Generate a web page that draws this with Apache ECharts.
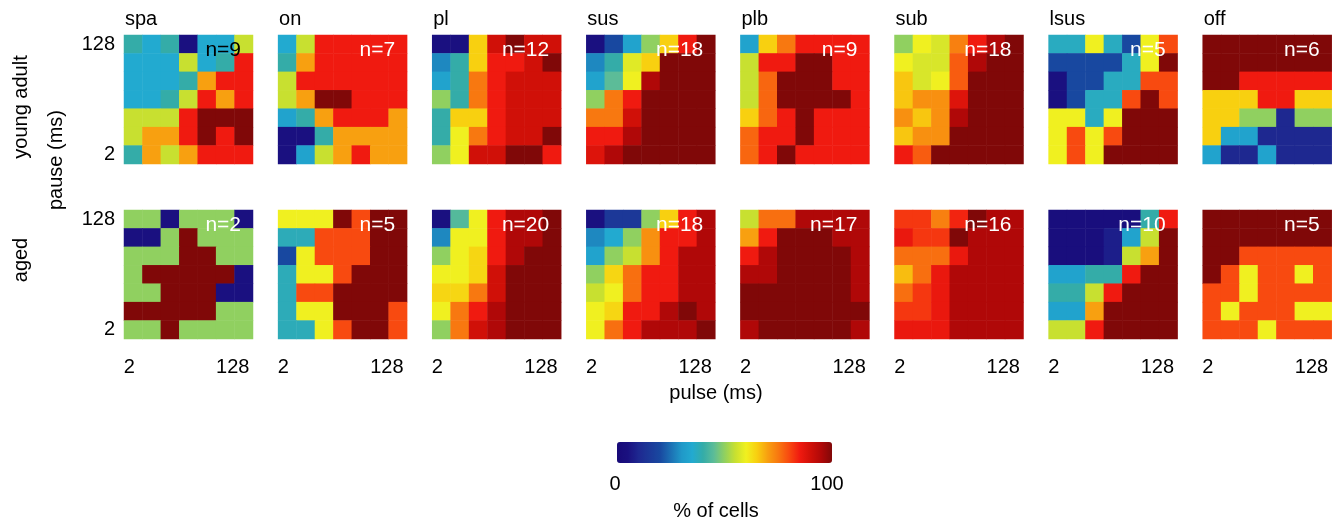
<!DOCTYPE html>
<html>
<head>
<meta charset="utf-8">
<script src="https://cdn.jsdelivr.net/npm/echarts@6/dist/echarts.min.js"></script>
<style>
  html, body { margin: 0; padding: 0; background: #fff; }
  #main { width: 1341px; height: 523px; }
</style>
</head>
<body>
<div id="main"></div>
<script>
// tick labels (pulse on x, pause on y)
var pulseTicks = ['2', '4', '8', '16', '32', '64', '128'];
var pauseTicks = ['2', '4', '8', '16', '32', '64', '128'];
var panelNames = ['spa', 'on', 'pl', 'sus', 'plb', 'sub', 'lsus', 'off'];
var nYoung = [9, 7, 12, 18, 9, 18, 5, 6];
var nAged = [2, 5, 20, 18, 17, 16, 10, 5];

// % of cells, rows from pause 128 (top) to 2 (bottom), columns pulse 2 -> 128
var spaYoung = [
  [40, 35, 40, 5, 35, 35, 55],
  [35, 35, 35, 55, 35, 40, 85],
  [35, 35, 35, 40, 70, 85, 85],
  [35, 35, 40, 55, 85, 70, 85],
  [55, 55, 55, 85, 100, 100, 100],
  [55, 70, 70, 85, 100, 85, 100],
  [40, 70, 55, 70, 85, 85, 85]
];
var onYoung = [
  [35, 55, 85, 85, 85, 85, 85],
  [40, 70, 85, 85, 85, 85, 85],
  [55, 85, 85, 85, 85, 85, 85],
  [55, 70, 100, 100, 85, 85, 85],
  [33, 40, 70, 85, 85, 85, 70],
  [5, 5, 40, 70, 70, 70, 70],
  [5, 33, 55, 70, 85, 70, 70]
];
var plYoung = [
  [5, 5, 65, 90, 100, 90, 90],
  [28, 40, 65, 85, 85, 90, 100],
  [33, 40, 75, 85, 90, 90, 90],
  [50, 40, 75, 85, 90, 90, 90],
  [40, 65, 65, 85, 90, 90, 90],
  [40, 60, 75, 85, 90, 90, 100],
  [50, 60, 90, 90, 100, 100, 85]
];
var susYoung = [
  [5, 20, 33, 50, 65, 85, 100],
  [28, 40, 58, 65, 100, 100, 100],
  [33, 45, 60, 95, 100, 100, 100],
  [50, 75, 85, 100, 100, 100, 100],
  [75, 75, 90, 100, 100, 100, 100],
  [85, 85, 95, 100, 100, 100, 100],
  [88, 95, 100, 100, 100, 100, 100]
];
var plbYoung = [
  [33, 65, 75, 85, 85, 85, 85],
  [55, 85, 85, 100, 100, 85, 85],
  [55, 77, 100, 100, 100, 85, 85],
  [55, 77, 100, 100, 100, 100, 85],
  [65, 77, 85, 100, 85, 85, 85],
  [77, 85, 85, 100, 85, 85, 85],
  [77, 85, 100, 85, 85, 85, 85]
];
var subYoung = [
  [50, 60, 57, 74, 85, 95, 100],
  [60, 57, 57, 78, 95, 100, 100],
  [66, 57, 60, 78, 100, 100, 100],
  [66, 72, 72, 88, 100, 100, 100],
  [72, 66, 72, 95, 100, 100, 100],
  [66, 72, 72, 100, 100, 100, 100],
  [85, 78, 100, 100, 100, 100, 100]
];
var lsusYoung = [
  [37, 37, 60, 37, 20, 60, 80],
  [20, 20, 20, 20, 37, 60, 100],
  [5, 20, 20, 37, 37, 80, 80],
  [5, 20, 37, 37, 80, 100, 80],
  [60, 60, 37, 60, 100, 100, 100],
  [60, 80, 60, 80, 100, 100, 100],
  [60, 80, 60, 100, 100, 100, 100]
];
var offYoung = [
  [100, 100, 100, 100, 100, 100, 100],
  [100, 100, 100, 100, 100, 100, 100],
  [100, 100, 85, 85, 85, 85, 85],
  [65, 65, 65, 85, 85, 65, 65],
  [65, 65, 50, 50, 10, 50, 50],
  [65, 33, 33, 10, 10, 10, 10],
  [33, 10, 10, 33, 10, 10, 10]
];

var spaAged = [
  [50, 50, 5, 50, 50, 50, 5],
  [5, 5, 50, 100, 50, 50, 50],
  [50, 50, 50, 100, 100, 50, 50],
  [50, 100, 100, 100, 100, 100, 5],
  [50, 50, 100, 100, 100, 5, 5],
  [100, 100, 100, 100, 100, 50, 50],
  [50, 50, 100, 50, 50, 50, 50]
];
var onAged = [
  [60, 60, 60, 100, 80, 100, 100],
  [38, 38, 80, 80, 80, 100, 100],
  [20, 60, 80, 80, 80, 100, 100],
  [38, 60, 60, 80, 100, 100, 100],
  [38, 80, 80, 100, 100, 100, 100],
  [38, 60, 60, 100, 100, 100, 80],
  [38, 38, 60, 80, 100, 100, 80]
];
var plAged = [
  [5, 44, 60, 85, 95, 95, 100],
  [28, 60, 60, 85, 95, 95, 100],
  [50, 60, 64, 85, 95, 100, 100],
  [60, 60, 64, 90, 100, 100, 100],
  [64, 64, 75, 90, 100, 100, 100],
  [60, 75, 85, 95, 100, 100, 100],
  [50, 75, 90, 95, 100, 100, 100]
];
var susAged = [
  [5, 15, 15, 50, 65, 85, 95],
  [28, 35, 50, 72, 85, 85, 95],
  [33, 50, 55, 72, 85, 95, 95],
  [50, 64, 76, 85, 85, 95, 95],
  [55, 60, 76, 85, 85, 95, 95],
  [60, 64, 85, 85, 95, 100, 95],
  [60, 76, 85, 95, 95, 95, 100]
];
var plbAged = [
  [55, 76, 76, 95, 95, 95, 95],
  [70, 85, 100, 100, 100, 95, 95],
  [85, 95, 100, 100, 100, 100, 95],
  [95, 95, 100, 100, 100, 100, 95],
  [100, 100, 100, 100, 100, 100, 95],
  [100, 100, 100, 100, 100, 100, 100],
  [95, 100, 100, 100, 100, 100, 95]
];
var subAged = [
  [82, 82, 74, 84, 100, 95, 95],
  [86, 82, 82, 100, 95, 95, 95],
  [76, 76, 76, 86, 95, 95, 95],
  [67, 76, 86, 95, 95, 95, 95],
  [76, 82, 86, 95, 95, 95, 95],
  [82, 82, 86, 95, 95, 95, 95],
  [86, 86, 86, 95, 95, 95, 95]
];
var lsusAged = [
  [3, 3, 3, 3, 3, 40, 85],
  [3, 3, 3, 8, 33, 55, 100],
  [3, 3, 3, 8, 55, 70, 100],
  [33, 33, 40, 40, 85, 100, 100],
  [40, 40, 55, 85, 100, 100, 100],
  [33, 33, 70, 100, 100, 100, 100],
  [55, 55, 85, 100, 100, 100, 100]
];
var offAged = [
  [100, 100, 100, 100, 100, 100, 100],
  [100, 100, 100, 100, 100, 100, 100],
  [100, 100, 80, 80, 80, 80, 80],
  [100, 80, 60, 80, 80, 60, 80],
  [80, 80, 60, 80, 80, 80, 80],
  [80, 60, 80, 80, 80, 60, 60],
  [80, 80, 80, 60, 80, 80, 80]
];

var youngGrids = [spaYoung, onYoung, plYoung, susYoung, plbYoung, subYoung, lsusYoung, offYoung];
var agedGrids = [spaAged, onAged, plAged, susAged, plbAged, subAged, lsusAged, offAged];

// jet-like palette, stops every 5 %
var jet = ['#180a78', '#1a1080', '#1e2890', '#1c3898', '#1848a0', '#1c70b4', '#2098c8', '#22aad0',
           '#34aca8', '#5cbc98', '#90d060', '#c8e030', '#f0f020', '#f8d010', '#f8a010', '#f87810',
           '#f84a10', '#f01a10', '#d01008', '#b00808', '#800808'];

var FONT = "'Liberation Sans', Arial, sans-serif";
var rowTop = [35, 210];
var size = 129;
var colLeft = function (c) { return 124 + c * 154.1; };

var myChart = echarts.init(document.getElementById('main'));

var grids = [], xAxes = [], yAxes = [], series = [], graphics = [];

for (var r = 0; r < 2; r++) {
  for (var c = 0; c < 8; c++) {
    var idx = r * 8 + c;
    var cells = r === 0 ? youngGrids[c] : agedGrids[c];
    grids.push({ left: colLeft(c), top: rowTop[r], width: size, height: size });
    xAxes.push({
      type: 'category', gridIndex: idx, data: pulseTicks,
      axisLine: { show: false }, axisTick: { show: false },
      splitLine: { show: false }, splitArea: { show: false },
      axisLabel: {
        show: r === 1, interval: 0, margin: 18,
        fontSize: 20, color: '#000', fontFamily: FONT,
        formatter: function (v, i) {
          if (i === 0) return '{l|' + v + '}';
          if (i === 6) return '{r|' + v + '}';
          return '';
        },
        rich: {
          l: { fontSize: 20, fontFamily: FONT, color: '#000', padding: [0, 8, 0, 0] },
          r: { fontSize: 20, fontFamily: FONT, color: '#000', padding: [0, 22, 0, 0] }
        }
      }
    });
    yAxes.push({
      type: 'category', gridIndex: idx, data: pauseTicks,
      axisLine: { show: false }, axisTick: { show: false },
      splitLine: { show: false }, splitArea: { show: false },
      axisLabel: {
        show: c === 0, interval: 0, margin: 9,
        fontSize: 20, color: '#000', fontFamily: FONT,
        formatter: function (v, i) { return (i === 0 || i === 6) ? v : ''; }
      }
    });
    var data = [];
    for (var row = 0; row < 7; row++) {
      for (var col = 0; col < 7; col++) {
        data.push([col, 6 - row, cells[row][col]]);
      }
    }
    series.push({
      type: 'heatmap', xAxisIndex: idx, yAxisIndex: idx, data: data,
      itemStyle: { borderWidth: 0 },
      emphasis: { disabled: true },
      progressive: 0, animation: false
    });

    // n= labels
    var n = r === 0 ? nYoung[c] : nAged[c];
    graphics.push({
      type: 'text', z: 100,
      style: {
        text: 'n=' + n, x: colLeft(c) + size - 12, y: rowTop[r] + 15,
        textAlign: 'right', textVerticalAlign: 'middle',
        font: '21px ' + FONT,
        fill: (r === 0 && c === 0) ? '#000' : '#fff'
      }
    });
    if (r === 0) {
      graphics.push({
        type: 'text', z: 100,
        style: {
          text: panelNames[c], x: colLeft(c) + 1, y: 19,
          textAlign: 'left', textVerticalAlign: 'middle',
          font: '20px ' + FONT, fill: '#000'
        }
      });
    }
  }
}

function rotText(txt, x, y) {
  return {
    type: 'text', x: x, y: y, rotation: Math.PI / 2,
    style: { text: txt, x: 0, y: 0, textAlign: 'center', textVerticalAlign: 'middle', font: '20px ' + FONT, fill: '#000' }
  };
}
function plainText(txt, x, y) {
  return {
    type: 'text',
    style: { text: txt, x: x, y: y, textAlign: 'center', textVerticalAlign: 'middle', font: '20px ' + FONT, fill: '#000' }
  };
}
graphics.push(rotText('young adult', 21, 107));
graphics.push(rotText('aged', 21, 260));
graphics.push(rotText('pause (ms)', 56, 160));
graphics.push(plainText('pulse (ms)', 716, 393));
graphics.push(plainText('0', 615, 484));
graphics.push(plainText('100', 827, 484));
graphics.push(plainText('% of cells', 716, 511));

var option = {
  animation: false,
  grid: grids,
  xAxis: xAxes,
  yAxis: yAxes,
  visualMap: {
    type: 'continuous', min: 0, max: 100,
    orient: 'horizontal', left: 617, top: 442,
    itemWidth: 21, itemHeight: 215,
    padding: 0, calculable: false, showLabel: false, text: null,
    seriesIndex: series.map(function (s, i) { return i; }),
    inRange: { color: jet },
    hoverLink: false
  },
  graphic: graphics,
  series: series
};

myChart.setOption(option);
</script>
</body>
</html>
